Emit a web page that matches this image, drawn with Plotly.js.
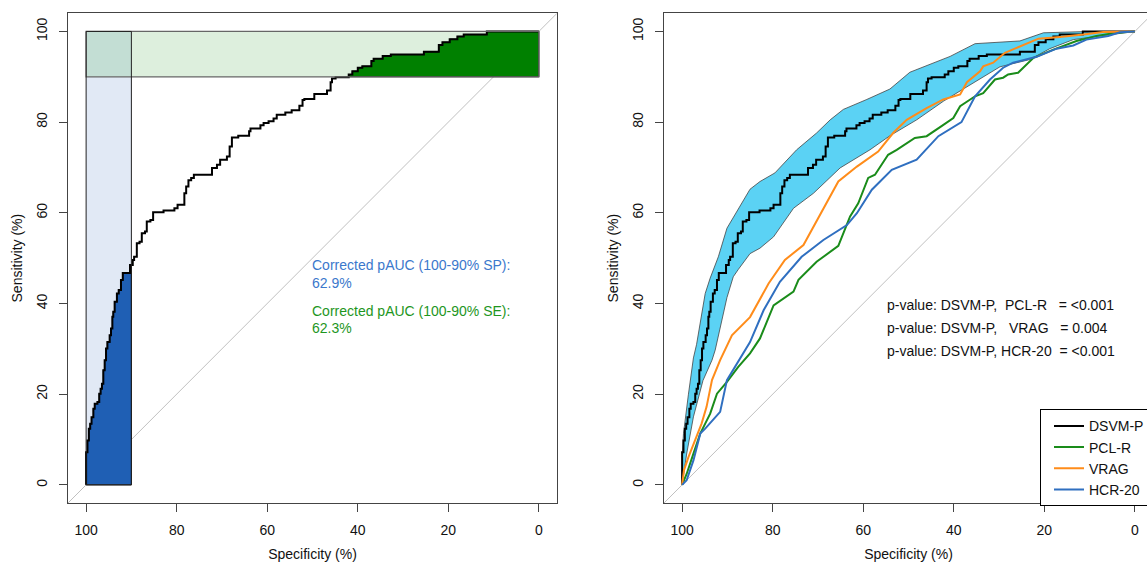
<!DOCTYPE html>
<html><head><meta charset="utf-8">
<script src="https://cdn.plot.ly/plotly-3.0.1.min.js"></script>
<style>html,body{margin:0;padding:0;overflow:hidden;background:#fff}#chart{width:1160px;height:562px}</style>
</head><body><div id="chart"></div><script>
// ---- data ----
const tickVals = [0, 20, 40, 60, 80, 100];
const tickText = ['0', '20', '40', '60', '80', '100'];
const seriesNames = ['DSVM-P', 'PCL-R', 'VRAG', 'HCR-20'];

// DSVM-P empirical ROC (step corners: specificity, sensitivity)
const dsvmSp = [100, 99.7, 99.4, 99.1, 98.8, 98.4, 98.1, 97.5, 97.1, 96.8, 96.5, 96.2, 95.9, 95.6, 95.3, 94.8, 94.5, 94.2, 94.0, 93.7, 93.2, 92.8, 92.3, 91.9, 90.3, 89.7, 89.4, 88.8, 88.2, 87.7, 87.0, 86.6, 85.8, 85.2, 82.9, 80.5, 79.8, 78.3, 77.9, 77.4, 76.8, 76.2, 72.2, 71.1, 70.4, 68.9, 68.3,
  67.8, 66.4, 64.0, 63.7, 61.5, 60.8, 59.7, 58.6, 57.9, 56.0, 54.6, 52.9, 52.2, 51.8, 49.6, 46.8, 46.0, 45.7, 44.9, 42.0, 41.2, 40.0, 39.0, 37.0, 36.5, 34.5, 32.7, 25.4, 22.1, 21.3, 19.7, 18.0, 16.6, 11.5, 11.0, 0];
const dsvmSe = [0, 7.2, 9.8, 12.4, 13.5, 14.9, 16.8, 17.9, 18.3, 20.1, 21.2, 22.3, 25.3, 27.5, 30.1, 31.5, 33.0, 34.5, 37.1, 38.2, 40.4, 42.2, 43.0, 45.2, 46.7, 48.5, 49.6, 50.3, 53.3, 53.6, 55.5, 55.9, 58.1, 58.4, 60.1, 60.5, 61.0, 61.8, 64.3, 65.8, 67.2, 67.7, 68.4, 69.9, 70.6, 71.7, 72.4,
  74.6, 76.6, 77.0, 78.0, 78.6, 79.3, 79.8, 80.2, 80.8, 81.6, 82.1, 82.6, 83.6, 84.9, 85.1, 86.2, 87.0, 88.8, 89.6, 89.9, 90.5, 91.2, 92.0, 92.3, 93.5, 94.0, 94.6, 94.9, 95.5, 97.0, 97.6, 98.3, 98.9, 99.3, 100, 100];

// DSVM-P confidence band
const ciUpSp = [100, 99.7, 98.6, 97.5, 96.8, 95.3, 94.9, 93.8, 92, 90.1, 85, 82.8, 79.5, 74.7, 70.3, 67.3, 64.4, 59.2, 54.1, 49.7, 44.6, 40.8, 35.3, 30.5, 25.4, 20.2, 10, 0];
const ciUpSe = [6, 11.3, 20, 28, 31, 40.5, 42.2, 45.6, 50.3, 56.6, 65.2, 66.9, 68.8, 73.9, 77.6, 80.5, 82.8, 85, 87.3, 91, 93.1, 94.5, 97.3, 97.6, 97.9, 99.7, 100, 100];
const ciLoSp = [100, 99, 97.5, 95.4, 93.4, 92.7, 91.6, 90.1, 88.7, 87.6, 85, 82.8, 79.8, 75.4, 71, 65.1, 58.5, 54.1, 48.2, 42.3, 37.9, 32.7, 29.8, 23.2, 18.8, 13.6, 5.5, 0];
const ciLoSe = [0, 6.8, 15, 23, 27.5, 29.7, 34.8, 41.3, 45.9, 47.5, 51, 52.2, 54.7, 61, 64.3, 69.9, 73.9, 77, 80.5, 84.6, 87.3, 90.5, 92.2, 93.8, 96.2, 98.2, 99.3, 100];

// PCL-R
const pclSp = [100, 99, 97.5, 96, 94.9, 93.8, 92.3, 90.1, 87.6, 85, 82.8, 80.9, 79.8, 75.4, 74.3, 70.3, 65.5, 62.9, 61.1, 58.9, 57.4, 54.5, 52.6, 48.6, 46, 42.7, 40.1, 38.6, 35.3, 33.5, 30.9, 29.1, 28, 25.8, 22.4, 18, 12.9, 8.5, 4, 0];
const pclSe = [0, 2.4, 6.9, 11.3, 13.5, 15.7, 20.1, 22.7, 26, 29, 32.3, 37, 39.6, 42.6, 45.2, 49.2, 52.7, 59.2, 62.1, 67.7, 68.4, 72.8, 73.9, 76.5, 76.9, 79.1, 80.9, 83.5, 85.7, 86.4, 89.4, 89.8, 90.5, 90.9, 94.2, 96, 97.9, 99, 99.7, 100];

// VRAG
const vragSp = [100, 99.6, 98.6, 97.1, 95.7, 94.6, 93.4, 91.6, 89, 85, 80.9, 77.3, 73.2, 65.5, 61.4, 56.7, 53.4, 50.4, 46, 42.3, 38.6, 37.1, 34.2, 33.5, 31.3, 28.7, 25.4, 21.3, 16.6, 11.4, 7, 3.3, 0];
const vragSe = [0, 3.2, 6.1, 9.8, 13.5, 17.2, 23.1, 27.5, 33, 37, 44.4, 49.6, 52.9, 66.9, 70.2, 73.5, 77.6, 80.5, 83.1, 85, 86.1, 88.8, 91.2, 92.3, 93.1, 95.3, 96.7, 98.4, 98.8, 99.3, 99.9, 100, 100];

// HCR-20
const hcrSp = [100, 99, 97.5, 96, 94.9, 91.6, 90.1, 87.9, 85, 82, 78.4, 73.6, 68.8, 63.6, 61.4, 58.1, 53.7, 48.2, 43.4, 38.3, 35.3, 32, 29.1, 26.9, 21.7, 17.3, 13.6, 10.7, 5.9, 3.3, 0];
const hcrSe = [0, 1, 5.4, 11.3, 12.4, 16.1, 23.1, 26.8, 31.5, 38.5, 44.8, 50.3, 54, 57.3, 59.9, 65.1, 69.5, 71.7, 76.9, 80, 85.7, 89.4, 92, 93.1, 94.4, 96.2, 96.9, 98.2, 99, 99.8, 100];

// partial AUC focus ranges and texts
const spFocus = [100, 90];
const seFocus = [100, 90];
const pAucTexts = ['Corrected pAUC (100-90% SP):', '62.9%', 'Corrected pAUC (100-90% SE):', '62.3%'];
const pValueTexts = [
  'p-value: DSVM-P,\u00a0 PCL-R \u00a0 = &lt;0.001',
  'p-value: DSVM-P, \u00a0 VRAG \u00a0 = 0.004',
  'p-value: DSVM-P, HCR-20 \u00a0= &lt;0.001'
];

// ---- styles ----
const W = 1160, H = 562;
const XR = [104, -4], YR = [-4, 104];
const FONT = 'Liberation Sans, Arial, Helvetica, sans-serif';
const C = {black: '#000000', green: '#1a8c1a', orange: '#ff8c1a', blue: '#2f6fc0',
  band: '#5bd2f4', ltBlue: '#e1e9f5', ltGreen: '#ddefdd', overlap: '#c3ded4',
  dkBlue: '#1f5fb4', dkGreen: '#008000', pBlue: '#3b78cc', pGreen: '#1e961e', diag: '#c0c0c0'};

function stairs(xs, ys) {
  const X = [], Y = [];
  for (let i = 0; i < xs.length; i++) {
    X.push(xs[i]); Y.push(ys[i]);
    if (i < xs.length - 1) { X.push(xs[i]); Y.push(ys[i + 1]); }
  }
  return {x: X, y: Y};
}
const st = stairs(dsvmSp, dsvmSe);

// blue pAUC polygon (specificity 100-90)
const bx = [], by = [];
for (let i = 0; i < st.x.length; i++) {
  if (st.x[i] >= spFocus[1]) { bx.push(st.x[i]); by.push(st.y[i]); }
  else { bx.push(spFocus[1]); by.push(st.y[i]); break; }
}
bx.push(spFocus[1], spFocus[0]); by.push(0, 0);

// green pAUC polygon (sensitivity 90-100)
const gx = [], gy = [];
for (let i = 0; i < st.x.length; i++) {
  if (st.y[i] >= seFocus[1]) {
    if (gx.length === 0) { gx.push(st.x[i]); gy.push(seFocus[1]); }
    gx.push(st.x[i]); gy.push(st.y[i]);
  }
}
gx.push(gx[gx.length - 1], gx[0]); gy.push(seFocus[1], seFocus[1]);

const traces = [
  {x: bx, y: by, xaxis: 'x', yaxis: 'y', mode: 'lines', fill: 'toself', fillcolor: C.dkBlue,
   line: {color: '#111', width: 1}, showlegend: false, hoverinfo: 'skip'},
  {x: gx, y: gy, xaxis: 'x', yaxis: 'y', mode: 'lines', fill: 'toself', fillcolor: C.dkGreen,
   line: {color: '#111', width: 1}, showlegend: false, hoverinfo: 'skip'},
  {x: st.x, y: st.y, xaxis: 'x', yaxis: 'y', mode: 'lines', line: {color: C.black, width: 2},
   showlegend: false},
  {x: ciUpSp.concat(ciLoSp.slice().reverse()), y: ciUpSe.concat(ciLoSe.slice().reverse()),
   xaxis: 'x2', yaxis: 'y2', mode: 'lines', fill: 'toself', fillcolor: C.band,
   line: {color: '#444', width: 0.8}, showlegend: false, hoverinfo: 'skip'},
  {x: st.x, y: st.y, xaxis: 'x2', yaxis: 'y2', mode: 'lines', name: seriesNames[0],
   line: {color: C.black, width: 2}},
  {x: pclSp, y: pclSe, xaxis: 'x2', yaxis: 'y2', mode: 'lines', name: seriesNames[1],
   line: {color: C.green, width: 2}},
  {x: vragSp, y: vragSe, xaxis: 'x2', yaxis: 'y2', mode: 'lines', name: seriesNames[2],
   line: {color: C.orange, width: 2}},
  {x: hcrSp, y: hcrSe, xaxis: 'x2', yaxis: 'y2', mode: 'lines', name: seriesNames[3],
   line: {color: C.blue, width: 2}}
];

function xAxis(dom, anchor) {
  return {domain: dom, anchor: anchor, range: XR, tickvals: tickVals, ticktext: tickText,
    ticks: 'outside', ticklen: 8, tickcolor: '#444', tickwidth: 1, showline: true, linecolor: '#444',
    linewidth: 1, mirror: true, showgrid: false, zeroline: false, ticklabelstandoff: 6,
    tickfont: {family: FONT, size: 14, color: '#111'},
    title: {text: 'Specificity (%)', font: {family: FONT, size: 14, color: '#111'}, standoff: 12},
    fixedrange: true};
}
function yAxis(dom, anchor) {
  return {domain: dom, anchor: anchor, range: YR, tickvals: tickVals, ticktext: tickText, tickangle: -90,
    ticks: 'outside', ticklen: 8, tickcolor: '#444', tickwidth: 1, showline: true, linecolor: '#444',
    linewidth: 1, mirror: true, showgrid: false, zeroline: false, ticklabelstandoff: 6,
    tickfont: {family: FONT, size: 14, color: '#111'},
    title: {text: 'Sensitivity (%)', font: {family: FONT, size: 14, color: '#111'}, standoff: 8},
    fixedrange: true};
}
const yDom = [1 - 503 / H, 1 - 13.3 / H];

const shapes = [
  // light focus rectangles
  {type: 'rect', xref: 'x', yref: 'y', x0: spFocus[0], x1: spFocus[1], y0: 0, y1: seFocus[1], fillcolor: C.ltBlue, line: {width: 0}, layer: 'below'},
  {type: 'rect', xref: 'x', yref: 'y', x0: spFocus[1], x1: 0, y0: seFocus[1], y1: seFocus[0], fillcolor: C.ltGreen, line: {width: 0}, layer: 'below'},
  {type: 'rect', xref: 'x', yref: 'y', x0: spFocus[0], x1: spFocus[1], y0: seFocus[1], y1: seFocus[0], fillcolor: C.overlap, line: {width: 0}, layer: 'below'},
  // diagonals
  {type: 'line', xref: 'x', yref: 'y', x0: XR[0], y0: 100 - XR[0], x1: XR[1], y1: 100 - XR[1], line: {color: C.diag, width: 1}, layer: 'below'},
  {type: 'line', xref: 'x2', yref: 'y2', x0: XR[0], y0: 100 - XR[0], x1: XR[1], y1: 100 - XR[1], line: {color: C.diag, width: 1}, layer: 'below'},
  // outlines
  {type: 'rect', xref: 'x', yref: 'y', x0: spFocus[0], x1: 0, y0: seFocus[1], y1: seFocus[0], line: {color: '#666', width: 1.2}, fillcolor: 'rgba(0,0,0,0)'},
  {type: 'rect', xref: 'x', yref: 'y', x0: spFocus[0], x1: spFocus[1], y0: 0, y1: seFocus[0], line: {color: '#222', width: 1}, fillcolor: 'rgba(0,0,0,0)'}
];

const ann = [];
const pAucY = [48.5, 44.6, 38.4, 34.6];
pAucTexts.forEach((t, i) => ann.push({xref: 'x', yref: 'y', x: 50.6, y: pAucY[i], text: t, xanchor: 'left', yanchor: 'middle',
  showarrow: false, font: {family: FONT, size: 14, color: i < 2 ? C.pBlue : C.pGreen}}));
const pValY = [39.7, 34.6, 29.5];
pValueTexts.forEach((t, i) => ann.push({xref: 'x2', yref: 'y2', x: 55.3, y: pValY[i], text: t, xanchor: 'left', yanchor: 'middle',
  showarrow: false, font: {family: FONT, size: 14, color: '#111'}}));

const layout = {
  width: W, height: H, margin: {l: 0, r: 0, t: 0, b: 0}, paper_bgcolor: '#fff', plot_bgcolor: '#fff',
  font: {family: FONT, size: 14, color: '#111'},
  xaxis: xAxis([68 / W, 557 / W], 'y'), yaxis: yAxis(yDom, 'x'),
  xaxis2: xAxis([664 / W, 1153 / W], 'y2'), yaxis2: yAxis(yDom, 'x2'),
  shapes: shapes, annotations: ann,
  showlegend: true,
  legend: {x: 1040 / W, y: 1 - 409.3 / H, xanchor: 'left', yanchor: 'top', bgcolor: '#fff', bordercolor: '#000',
    borderwidth: 1, font: {family: FONT, size: 14, color: '#111'}, indentation: 8, itemwidth: 30}
};
Plotly.newPlot('chart', traces, layout, {staticPlot: true, displayModeBar: false});
</script></body></html>
